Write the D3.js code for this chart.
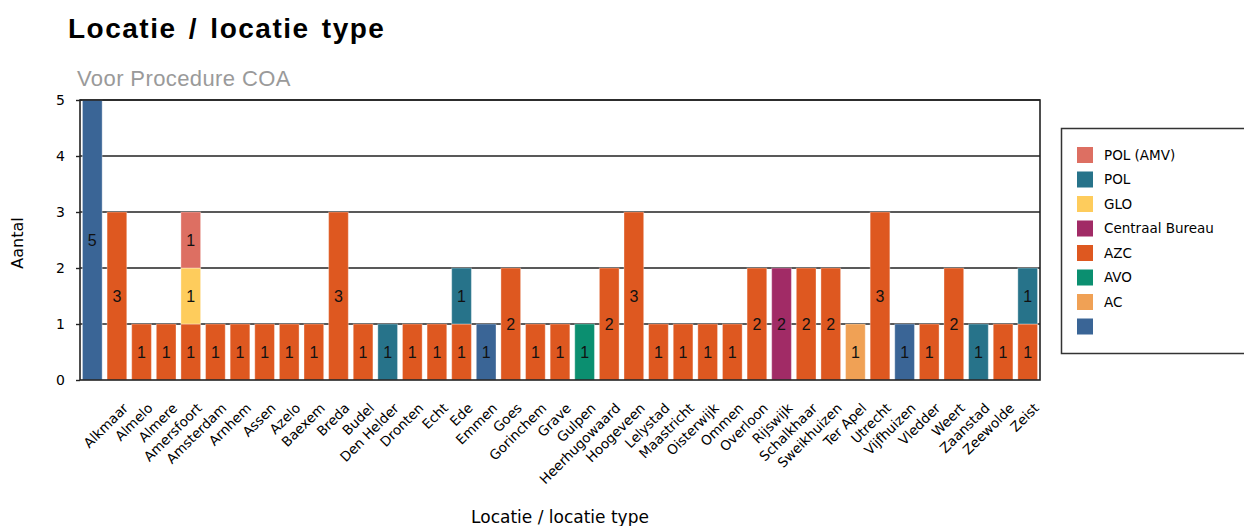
<!DOCTYPE html>
<html>
<head>
<meta charset="utf-8">
<script src="https://cdn.jsdelivr.net/npm/d3@7"></script>
<style>
  html, body { margin: 0; padding: 0; background: #fff; }
  svg { display: block; }
</style>
</head>
<body>
<svg id="chart" width="1244" height="526"></svg>
<script>
// Locations (first category has no location filled in)
const categories = ["", "Alkmaar", "Almelo", "Almere", "Amersfoort", "Amsterdam", "Arnhem", "Assen", "Azelo",
  "Baexem", "Breda", "Budel", "Den Helder", "Dronten", "Echt", "Ede", "Emmen", "Goes", "Gorinchem", "Grave",
  "Gulpen", "Heerhugowaard", "Hoogeveen", "Lelystad", "Maastricht", "Oisterwijk", "Ommen", "Overloon",
  "Rijswijk", "Schalkhaar", "Sweikhuizen", "Ter Apel", "Utrecht", "Vijfhuizen", "Vledder", "Weert",
  "Zaanstad", "Zeewolde", "Zeist"];

// Location types, bottom of the stack first
const seriesNames = ["", "AC", "AVO", "AZC", "Centraal Bureau", "GLO", "POL", "POL (AMV)"];
const seriesColors = ["#3a6596", "#f0a155", "#0b8f70", "#de5820", "#a12b66", "#fecc5c", "#27738a", "#dd6f62"];

// Counts per location, one array per location type (same order as categories)
const valuesBlank   = [5,0,0,0,0,0,0,0,0,0,0,0,0,0,0,0,1,0,0,0,0,0,0,0,0,0,0,0,0,0,0,0,0,1,0,0,0,0,0];
const valuesAC      = [0,0,0,0,0,0,0,0,0,0,0,0,0,0,0,0,0,0,0,0,0,0,0,0,0,0,0,0,0,0,0,1,0,0,0,0,0,0,0];
const valuesAVO     = [0,0,0,0,0,0,0,0,0,0,0,0,0,0,0,0,0,0,0,0,1,0,0,0,0,0,0,0,0,0,0,0,0,0,0,0,0,0,0];
const valuesAZC     = [0,3,1,1,1,1,1,1,1,1,3,1,0,1,1,1,0,2,1,1,0,2,3,1,1,1,1,2,0,2,2,0,3,0,1,2,0,1,1];
const valuesCB      = [0,0,0,0,0,0,0,0,0,0,0,0,0,0,0,0,0,0,0,0,0,0,0,0,0,0,0,0,2,0,0,0,0,0,0,0,0,0,0];
const valuesGLO     = [0,0,0,0,1,0,0,0,0,0,0,0,0,0,0,0,0,0,0,0,0,0,0,0,0,0,0,0,0,0,0,0,0,0,0,0,0,0,0];
const valuesPOL     = [0,0,0,0,0,0,0,0,0,0,0,0,1,0,0,1,0,0,0,0,0,0,0,0,0,0,0,0,0,0,0,0,0,0,0,0,1,0,1];
const valuesPOLAMV  = [0,0,0,0,1,0,0,0,0,0,0,0,0,0,0,0,0,0,0,0,0,0,0,0,0,0,0,0,0,0,0,0,0,0,0,0,0,0,0];

const yTicks = [0, 1, 2, 3, 4, 5];

const seriesValues = [valuesBlank, valuesAC, valuesAVO, valuesAZC, valuesCB, valuesGLO, valuesPOL, valuesPOLAMV];

// Table for d3.stack: one row per location
const rows = categories.map((c, i) => {
  const r = { cat: c, idx: i };
  seriesNames.forEach((s, k) => { r["s" + k] = seriesValues[k][i]; });
  return r;
});
const keys = seriesNames.map((s, k) => "s" + k);
const stacked = d3.stack().keys(keys)(rows);

const svg = d3.select("#chart");
const plot = { left: 80, right: 1040, top: 100, bottom: 380 };

const x = d3.scaleBand()
  .domain(d3.range(categories.length))
  .range([plot.left, plot.right])
  .paddingInner(0.2)
  .paddingOuter(0.1);

const y = d3.scaleLinear().domain([0, 5]).range([plot.bottom, plot.top]);

// Titles
svg.append("text")
  .attr("x", 68).attr("y", 38)
  .attr("font-family", "Liberation Sans, Arial, sans-serif")
  .attr("font-weight", "bold")
  .attr("font-size", 28)
  .attr("letter-spacing", 1.5)
  .attr("word-spacing", 3)
  .attr("fill", "#000")
  .text("Locatie / locatie type");

svg.append("text")
  .attr("x", 77).attr("y", 86)
  .attr("font-family", "Liberation Sans, Arial, sans-serif")
  .attr("font-size", 22)
  .attr("letter-spacing", 0.4)
  .attr("fill", "#9a9a9a")
  .text("Voor Procedure COA");

// Horizontal grid lines
svg.append("g")
  .selectAll("line")
  .data(yTicks.filter(t => t > 0))
  .join("line")
  .attr("x1", plot.left).attr("x2", plot.right)
  .attr("y1", d => y(d)).attr("y2", d => y(d))
  .attr("stroke", "#222").attr("stroke-width", 1.4);

// Stacked bars
const layer = svg.append("g")
  .selectAll("g")
  .data(stacked)
  .join("g")
  .attr("fill", (d, k) => seriesColors[k]);

layer.selectAll("rect")
  .data(d => d.filter(p => p[1] - p[0] > 0))
  .join("rect")
  .attr("x", p => x(p.data.idx))
  .attr("width", x.bandwidth())
  .attr("y", p => y(p[1]))
  .attr("height", p => y(p[0]) - y(p[1]))
  .attr("stroke", "rgba(255,255,255,0.35)")
  .attr("stroke-width", 1);

// Segment value labels
layer.selectAll("text")
  .data(d => d.filter(p => p[1] - p[0] > 0))
  .join("text")
  .attr("x", p => x(p.data.idx) + x.bandwidth() / 2)
  .attr("y", p => (y(p[0]) + y(p[1])) / 2)
  .attr("dy", "0.36em")
  .attr("text-anchor", "middle")
  .attr("font-family", "Liberation Sans, Arial, sans-serif")
  .attr("font-size", 16)
  .attr("fill", "#111")
  .text(p => p[1] - p[0]);

// Plot frame
svg.append("rect")
  .attr("x", plot.left).attr("y", plot.top)
  .attr("width", plot.right - plot.left)
  .attr("height", plot.bottom - plot.top)
  .attr("fill", "none")
  .attr("stroke", "#222").attr("stroke-width", 1.6);

// Y axis
const yAxis = svg.append("g")
  .attr("transform", `translate(${plot.left},0)`)
  .call(d3.axisLeft(y).tickValues(yTicks).tickSize(4).tickPadding(11).tickFormat(d3.format("d")));
yAxis.select(".domain").remove();
yAxis.selectAll(".tick line").attr("stroke", "#222").attr("stroke-width", 1.4);
yAxis.selectAll(".tick text")
  .attr("font-family", "DejaVu Sans, sans-serif")
  .attr("font-size", 14)
  .attr("fill", "#000");

// X axis labels
const xAxis = svg.append("g")
  .attr("transform", `translate(0,${plot.bottom})`)
  .call(d3.axisBottom(x).tickSize(0).tickFormat(i => categories[i]));
xAxis.select(".domain").remove();
xAxis.selectAll(".tick text")
  .attr("font-family", "DejaVu Sans, sans-serif")
  .attr("font-size", 13.5)
  .attr("fill", "#000")
  .attr("text-anchor", "end")
  .attr("x", 0).attr("y", 0).attr("dy", 0)
  .attr("transform", "translate(12,29) rotate(-45)");

// Axis titles
svg.append("text")
  .attr("x", 560).attr("y", 523)
  .attr("text-anchor", "middle")
  .attr("font-family", "DejaVu Sans, sans-serif")
  .attr("font-size", 17)
  .attr("fill", "#000")
  .text("Locatie / locatie type");

svg.append("text")
  .attr("transform", "translate(23,243) rotate(-90)")
  .attr("text-anchor", "middle")
  .attr("font-family", "DejaVu Sans, sans-serif")
  .attr("font-size", 16)
  .attr("fill", "#000")
  .text("Aantal");

// Legend, top entry is the top of the stack
const legend = svg.append("g");
legend.append("rect")
  .attr("x", 1061.5).attr("y", 128.5)
  .attr("width", 220).attr("height", 225)
  .attr("fill", "#fff")
  .attr("stroke", "#333").attr("stroke-width", 1.5);

const legendOrder = d3.range(seriesNames.length).reverse();
const item = legend.selectAll("g.item")
  .data(legendOrder)
  .join("g")
  .attr("class", "item")
  .attr("transform", (k, j) => `translate(1077,${147 + j * 24.5})`);
item.append("rect")
  .attr("width", 16).attr("height", 16)
  .attr("fill", k => seriesColors[k]);
item.append("text")
  .attr("x", 27).attr("y", 8).attr("dy", "0.36em")
  .attr("font-family", "DejaVu Sans, sans-serif")
  .attr("font-size", 13.5)
  .attr("fill", "#000")
  .text(k => seriesNames[k]);
</script>
</body>
</html>
